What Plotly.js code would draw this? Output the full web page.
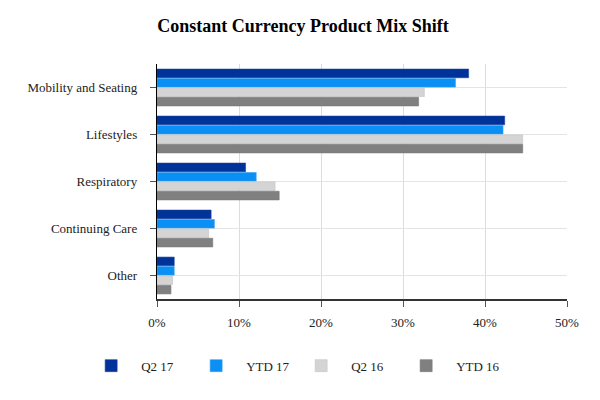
<!DOCTYPE html>
<html>
<head>
<meta charset="utf-8">
<script src="https://cdn.plot.ly/plotly-3.0.1.min.js"></script>
<style>html,body{margin:0;padding:0;background:#fff;}#chart{width:600px;height:400px;}</style>
</head>
<body>
<div id="chart"></div>
<script>
var categories = ["Mobility and Seating", "Lifestyles", "Respiratory", "Continuing Care", "Other"];
var seriesNames = ["Q2 17", "YTD 17", "Q2 16", "YTD 16"];
var q2_17 = [38.0, 42.4, 10.8, 6.6, 2.1];
var ytd_17 = [36.4, 42.2, 12.1, 7.0, 2.1];
var q2_16 = [32.6, 44.6, 14.4, 6.3, 1.9];
var ytd_16 = [31.9, 44.6, 14.9, 6.8, 1.7];
var xTickVals = [0, 10, 20, 30, 40, 50];
var xTickText = ["0%", "10%", "20%", "30%", "40%", "50%"];

var colors = ["#003399", "#0a90f5", "#d4d4d4", "#808080"];
var lineColors = ["#1a3f9e", "#3aa0f0", "#c4c4c4", "#777777"];
var allSeries = [q2_17, ytd_17, q2_16, ytd_16];

var data = allSeries.map(function (vals, i) {
  return {
    type: "bar",
    orientation: "h",
    name: seriesNames[i],
    y: categories,
    x: vals,
    marker: { color: colors[i], line: { color: lineColors[i], width: 0.6 } },
    hoverinfo: "x+name"
  };
});

var serif = "Liberation Serif, Times New Roman, serif";
var layout = {
  width: 600,
  height: 400,
  paper_bgcolor: "#fff",
  plot_bgcolor: "#fff",
  margin: { l: 157, r: 33, t: 64, b: 101 },
  title: {
    text: "<b>Constant Currency Product Mix Shift</b>",
    font: { family: serif, size: 18, color: "#000" },
    x: 0.505, xanchor: "center", y: 0.937, yanchor: "middle"
  },
  barmode: "group",
  bargap: 0.2,
  bargroupgap: 0.08,
  xaxis: {
    range: [0, 50],
    tickvals: xTickVals,
    ticktext: xTickText,
    showgrid: true,
    gridcolor: "#dcdcdc",
    gridwidth: 1,
    zeroline: false,
    showline: true,
    linecolor: "#333",
    linewidth: 1.5,
    ticks: "outside",
    ticklen: 6,
    tickcolor: "#555",
    tickfont: { family: serif, size: 13, color: "#222" },
    ticklabelstandoff: 5,
    fixedrange: true
  },
  yaxis: {
    autorange: "reversed",
    showgrid: true,
    gridcolor: "#e4e4e4",
    showline: true,
    linecolor: "#000",
    linewidth: 1.2,
    ticks: "outside",
    ticklen: 6,
    tickcolor: "#555",
    tickfont: { family: serif, size: 13, color: "#222" },
    ticklabelstandoff: 10,
    zeroline: false,
    fixedrange: true
  },
  showlegend: true,
  legend: {
    orientation: "h",
    x: -0.185, xanchor: "left",
    y: -0.22, yanchor: "top",
    itemwidth: 50,
    entrywidth: 40,
    entrywidthmode: "pixels",
    font: { family: serif, size: 13, color: "#222" },
    traceorder: "normal",
    itemclick: false,
    itemdoubleclick: false
  }
};

Plotly.newPlot("chart", data, layout, { displayModeBar: false, staticPlot: true });
</script>
</body>
</html>
